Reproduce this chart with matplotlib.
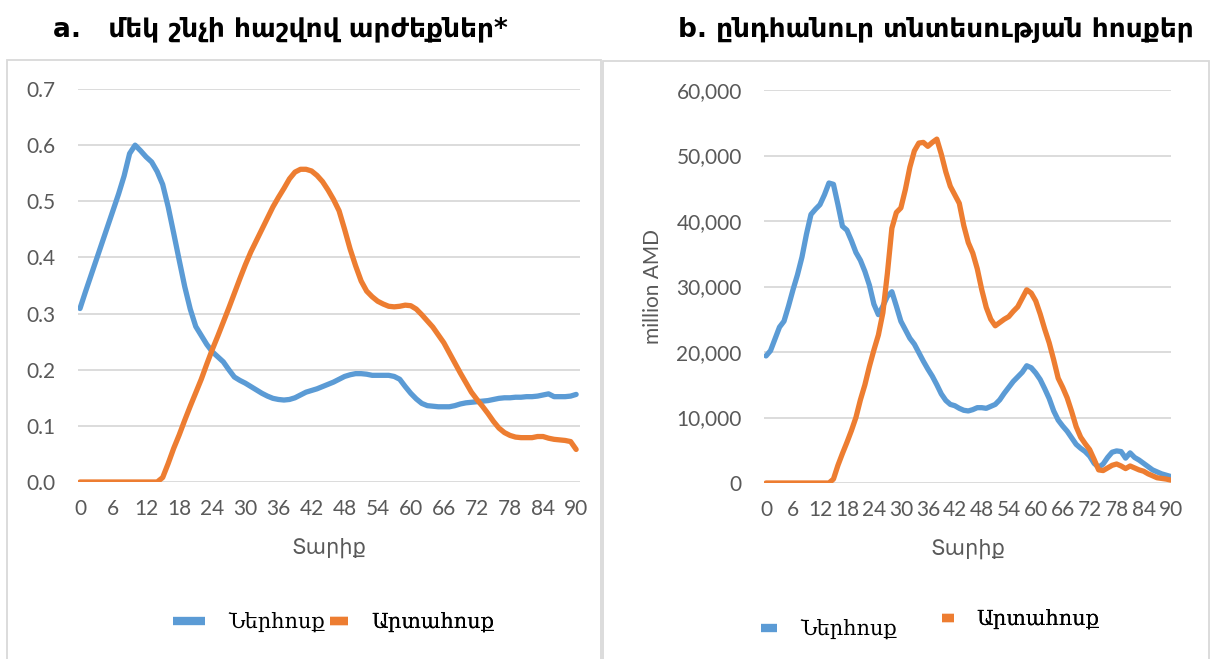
import matplotlib
matplotlib.use('Agg')
import matplotlib.pyplot as plt
from matplotlib.patches import Rectangle

# ages 0..90
ages = list(range(0, 91))
tick_ages = list(range(0, 91, 6))

# a. per capita values
inflow_per_capita = [
    0.309, 0.339, 0.368, 0.397, 0.426, 0.455, 0.484, 0.513, 0.545, 0.585,
    0.600, 0.590, 0.579, 0.570, 0.553, 0.530, 0.490, 0.443, 0.395, 0.348,
    0.308, 0.277, 0.261, 0.245, 0.232, 0.223, 0.214, 0.200, 0.187, 0.181,
    0.176, 0.170, 0.164, 0.158, 0.153, 0.149, 0.147, 0.146, 0.147, 0.150,
    0.155, 0.160, 0.163, 0.166, 0.170, 0.174, 0.178, 0.183, 0.188, 0.191,
    0.193, 0.193, 0.192, 0.190, 0.190, 0.190, 0.190, 0.188, 0.183, 0.170,
    0.158, 0.148, 0.140, 0.136, 0.135, 0.134, 0.134, 0.134, 0.136, 0.139,
    0.141, 0.142, 0.143, 0.144, 0.145, 0.147, 0.149, 0.150, 0.150, 0.151,
    0.151, 0.152, 0.152, 0.153, 0.155, 0.157, 0.152, 0.152, 0.152, 0.153,
    0.156,
]
outflow_per_capita = [
    0, 0, 0, 0, 0, 0, 0, 0, 0, 0,
    0, 0, 0, 0, 0, 0.008, 0.033, 0.060, 0.084, 0.110,
    0.135, 0.159, 0.183, 0.210, 0.236, 0.260, 0.285, 0.310, 0.336, 0.362,
    0.387, 0.410, 0.430, 0.450, 0.470, 0.490, 0.507, 0.523, 0.540, 0.552,
    0.557, 0.557, 0.554, 0.546, 0.535, 0.520, 0.503, 0.483, 0.450, 0.415,
    0.385, 0.358, 0.340, 0.330, 0.322, 0.317, 0.313, 0.312, 0.313, 0.315,
    0.314, 0.308, 0.298, 0.287, 0.276, 0.262, 0.248, 0.230, 0.212, 0.194,
    0.177, 0.160, 0.147, 0.135, 0.122, 0.108, 0.096, 0.088, 0.083, 0.080,
    0.079, 0.079, 0.079, 0.081, 0.081, 0.078, 0.076, 0.075, 0.074, 0.072,
    0.058,
]

# b. total economy flows, million AMD
inflow_total = [
    19400, 20200, 22000, 23800, 24700, 27000, 29500, 31800, 34500, 38000,
    41000, 41800, 42500, 44000, 45800, 45600, 42500, 39200, 38600, 37000,
    35200, 34000, 32300, 30200, 27300, 25700, 27000, 28500, 29200, 27000,
    24700, 23400, 22100, 21200, 19900, 18600, 17400, 16300, 15000, 13600,
    12600, 12000, 11800, 11400, 11100, 11000, 11200, 11500, 11500, 11400,
    11700, 12000, 12700, 13700, 14600, 15500, 16200, 16900, 17900, 17600,
    16800, 15800, 14400, 12900, 11000, 9600, 8700, 7900, 6900, 5900,
    5300, 4800, 4100, 3000, 2400, 2900, 3900, 4700, 4900, 4800,
    3800, 4600, 3900, 3500, 3000, 2500, 2000, 1700, 1400, 1200,
    1000,
]
outflow_total = [
    0, 0, 0, 0, 0, 0, 0, 0, 0, 0,
    0, 0, 0, 0, 0, 600, 2700, 4500, 6200, 8000,
    10000, 12700, 15000, 17800, 20300, 22600, 26000, 32000, 38900, 41300,
    42000, 44800, 48200, 50700, 51900, 52000, 51400, 52000, 52500, 50200,
    47500, 45300, 44000, 42700, 39300, 36700, 35100, 32700, 29500, 26800,
    25000, 24000, 24500, 25000, 25400, 26200, 26900, 28200, 29500, 29000,
    27800, 25800, 23500, 21400, 18800, 16000, 14600, 13000, 10900, 8600,
    7000, 6000, 5100, 3600, 2000, 1900, 2300, 2700, 2900, 2600,
    2200, 2600, 2300, 2000, 1800, 1400, 1100, 800, 700, 600,
    450,
]

label_in = 'Ներհոսք'
label_out = 'Արտահոսք'
xlabel = 'Տարիք'
title_a = 'a.   մեկ շնչի հաշվով արժեքներ*'
title_b = 'b. ընդհանուր տնտեսության հոսքեր'

BLUE = '#5B9BD5'
ORANGE = '#ED7D31'
GRID = '#D9D9D9'
TEXT_GRAY = '#595959'
SANS = ['Lato', 'DejaVu Sans']
SERIF = ['DejaVu Serif', 'DejaVu Sans']
LW = 3.8


def style_axis(ax, xlim):
    ax.set_xlim(*xlim)
    ax.set_xticks(tick_ages)
    ax.set_xticklabels([str(a) for a in tick_ages])
    for side in ['top', 'right', 'left', 'bottom']:
        ax.spines[side].set_visible(False)
    ax.grid(axis='y', color=GRID, linewidth=1.3)
    ax.set_axisbelow(True)
    ax.tick_params(axis='both', length=0, colors=TEXT_GRAY, labelsize=15)
    ax.tick_params(axis='y', pad=16)
    ax.tick_params(axis='x', pad=12)
    for lbl in ax.get_xticklabels() + ax.get_yticklabels():
        lbl.set_family(SANS)
    ax.set_xlabel(xlabel, color=TEXT_GRAY, fontsize=15, family=SANS, labelpad=14)


def add_legend_entry(ax, line, label, center, handlelength):
    leg = ax.legend([line], [label], loc='center', bbox_to_anchor=(center[0] / 1211, 1 - center[1] / 659),
                    bbox_transform=fig.transFigure, frameon=False, handlelength=handlelength,
                    handletextpad=1.1, prop={'family': SERIF, 'size': 15})
    for h in leg.legend_handles:
        h.set_linewidth(6)
        h.set_solid_capstyle('butt')
    ax.add_artist(leg)
    return leg


fig = plt.figure(figsize=(12.11, 6.59), dpi=100)

# panel borders
fig.patches.append(Rectangle((7 / 1211, -0.01), 594 / 1211, 1 - 60 / 659 + 0.01,
                             transform=fig.transFigure, fill=False, edgecolor=GRID, linewidth=1.3))
fig.patches.append(Rectangle((603 / 1211, -0.01), 606 / 1211, 1 - 61 / 659 + 0.01,
                             transform=fig.transFigure, fill=False, edgecolor=GRID, linewidth=1.3))

# a. per capita
ax1 = fig.add_axes([78 / 1211, 1 - 482 / 659, 502 / 1211, 393 / 659])
line_in_a, = ax1.plot(ages, inflow_per_capita, color=BLUE, linewidth=LW, solid_capstyle='round')
line_out_a, = ax1.plot(ages, outflow_per_capita, color=ORANGE, linewidth=LW, solid_capstyle='round')
ax1.set_ylim(0, 0.7)
ax1.set_yticks([i / 10 for i in range(8)])
ax1.set_yticklabels([f'{i / 10:.1f}' for i in range(8)])
style_axis(ax1, (-0.36, 90.7))
add_legend_entry(ax1, line_in_a, label_in, (249, 622), 1.55)
add_legend_entry(ax1, line_out_a, label_out, (412, 622), 0.9)

# b. total economy
ax2 = fig.add_axes([764 / 1211, 1 - 483 / 659, 407 / 1211, 393 / 659])
line_in_b, = ax2.plot(ages, inflow_total, color=BLUE, linewidth=LW, solid_capstyle='round')
line_out_b, = ax2.plot(ages, outflow_total, color=ORANGE, linewidth=LW, solid_capstyle='round')
ax2.set_ylim(0, 60000)
ax2.set_yticks(list(range(0, 60001, 10000)))
ax2.set_yticklabels([f'{v:,}' for v in range(0, 60001, 10000)])
style_axis(ax2, (-0.45, 90.1))
ax2.set_ylabel('million AMD', color=TEXT_GRAY, fontsize=15, family=SANS, labelpad=10)
add_legend_entry(ax2, line_in_b, label_in, (829, 629), 0.8)
add_legend_entry(ax2, line_out_b, label_out, (1021, 619), 0.55)

# titles
fig.text(280 / 1211, 1 - 29 / 659, title_a, ha='center', va='center', fontsize=19,
         fontweight='bold', family=['DejaVu Sans'])
fig.text(936 / 1211, 1 - 29 / 659, title_b, ha='center', va='center', fontsize=19,
         fontweight='bold', family=['DejaVu Sans'])

fig.savefig('out.png', dpi=100)
